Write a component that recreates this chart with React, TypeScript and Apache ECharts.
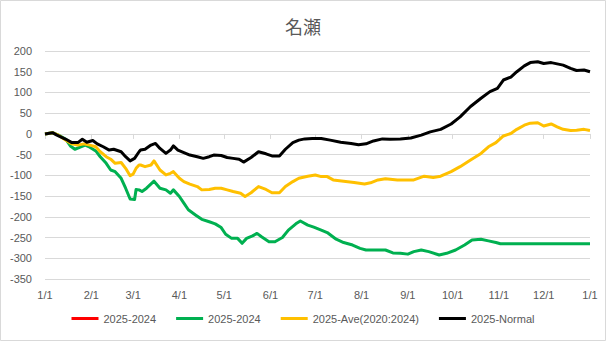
import React, { useEffect, useRef } from "react";
import * as echarts from "echarts";

const titleText = "名瀬";

const xTickDays = [0, 31, 59, 90, 120, 151, 181, 212, 243, 273, 304, 334, 365];
const xTickLabels = ["1/1", "2/1", "3/1", "4/1", "5/1", "6/1", "7/1", "8/1", "9/1", "10/1", "11/1", "12/1", "1/1"];

const yMin = -350;
const yMax = 200;
const yStep = 50;

const seriesNames = ["2025-2024", "2025-2024", "2025-Ave(2020:2024)", "2025-Normal"];
const seriesColors = ["#FF0000", "#00B050", "#FFC000", "#000000"];

// red series: no visible data in the reference
const redData: [number, number][] = [];

const greenData: [number, number][] = [
  [0, 0], [5, 3], [9, -3], [14, -13], [17, -29], [20, -37], [24, -31], [27, -27], [30, -32],
  [34, -41], [37, -55], [41, -71], [44, -87], [47, -91], [51, -107], [54, -131], [57, -157],
  [60, -158], [61, -134], [63, -135], [65, -139], [68, -131], [73, -114], [77, -131], [81, -135],
  [84, -143], [86, -135], [90, -151], [93, -167], [96, -183], [101, -196], [105, -206], [110, -212],
  [114, -217], [118, -226], [121, -242], [125, -252], [129, -252], [132, -264], [135, -252],
  [139, -246], [142, -240], [145, -248], [150, -260], [154, -260], [159, -250], [163, -232],
  [168, -217], [171, -210], [176, -220], [180, -225], [185, -232], [189, -238], [195, -254],
  [200, -262], [206, -268], [211, -276], [215, -280], [223, -280], [228, -280], [233, -287],
  [238, -288], [243, -290], [247, -284], [252, -280], [257, -284], [264, -292], [269, -288],
  [275, -280], [281, -268], [286, -256], [292, -254], [297, -258], [302, -262], [305, -265],
  [365, -265],
];

const yellowData: [number, number][] = [
  [0, 0], [5, 3], [9, -3], [14, -15], [18, -24], [22, -27], [26, -24], [30, -27], [34, -31],
  [37, -43], [41, -55], [44, -61], [47, -71], [51, -69], [54, -83], [57, -101], [59, -97],
  [61, -83], [63, -75], [64, -75], [67, -79], [71, -75], [73, -65], [77, -87], [81, -99],
  [84, -95], [86, -91], [90, -107], [93, -115], [97, -121], [102, -127], [105, -135], [110, -134],
  [114, -131], [118, -131], [122, -135], [126, -139], [131, -143], [134, -151], [138, -142],
  [143, -127], [148, -134], [152, -142], [157, -142], [161, -127], [166, -115], [170, -107],
  [176, -102], [181, -99], [185, -103], [189, -103], [193, -111], [200, -114], [207, -117],
  [214, -121], [218, -118], [223, -111], [228, -108], [236, -111], [244, -111], [247, -111],
  [254, -102], [260, -105], [265, -102], [272, -91], [278, -79], [285, -63], [292, -47],
  [297, -31], [302, -21], [307, -5], [312, 1], [316, 11], [321, 21], [325, 26], [330, 27],
  [334, 19], [339, 24], [343, 17], [347, 11], [352, 8], [356, 9], [361, 11], [365, 8],
];

const blackData: [number, number][] = [
  [0, 0], [5, 3], [8, -3], [14, -13], [18, -21], [22, -21], [25, -13], [28, -20], [32, -16],
  [35, -24], [39, -31], [43, -39], [46, -37], [51, -43], [54, -55], [57, -65], [60, -59],
  [63, -43], [64, -39], [67, -37], [71, -27], [74, -23], [77, -35], [81, -47], [84, -39],
  [86, -29], [89, -39], [93, -45], [97, -51], [102, -55], [106, -59], [110, -55], [113, -51],
  [118, -52], [122, -57], [126, -59], [130, -61], [133, -68], [138, -57], [143, -43], [148, -48],
  [152, -53], [157, -53], [161, -37], [166, -21], [170, -15], [174, -12], [179, -11], [185, -11],
  [191, -15], [198, -20], [205, -23], [210, -26], [215, -24], [220, -17], [226, -12], [231, -13],
  [238, -12], [245, -10], [252, -3], [258, 5], [265, 11], [272, 24], [278, 41], [285, 66],
  [292, 86], [298, 102], [303, 110], [307, 130], [312, 137], [316, 150], [321, 164], [325, 172],
  [330, 174], [334, 170], [339, 172], [343, 169], [347, 166], [352, 158], [356, 153], [361, 154],
  [365, 150],
];

const allData = [redData, greenData, yellowData, blackData];

export default function App() {
  const ref = useRef<HTMLDivElement>(null);
  useEffect(() => {
    if (!ref.current) return;
    const chart = echarts.init(ref.current, null, { renderer: "svg" });
    const keys = seriesNames.map((n, i) => `${n}#${i}`);
    const labelFont = "'Liberation Sans', 'Noto Sans CJK JP', sans-serif";
    chart.setOption({
      animation: false,
      backgroundColor: "#ffffff",
      title: {
        text: titleText,
        left: "center",
        top: 12,
        textStyle: {
          fontSize: 18,
          fontWeight: "normal",
          color: "#595959",
          fontFamily: "'Noto Sans CJK JP', sans-serif",
        },
      },
      grid: { left: 45, right: 16, top: 51, bottom: 62 },
      legend: {
        data: keys.map((k, i) => ({ name: k, icon: "rect", itemStyle: { color: seriesColors[i] } })),
        formatter: (name: string) => name.split("#")[0],
        bottom: 12,
        left: "center",
        itemWidth: 27,
        itemHeight: 3,
        itemGap: 20,
        textStyle: { fontSize: 11, color: "#595959", fontFamily: labelFont },
      },
      xAxis: {
        type: "value",
        min: 0,
        max: 365,
        splitLine: { show: false },
        axisLine: { show: true, lineStyle: { color: "#D9D9D9", width: 1 } },
        axisTick: {
          show: true,
          customValues: xTickDays,
          length: 5,
          lineStyle: { color: "#D9D9D9" },
        },
        axisLabel: {
          customValues: xTickDays,
          formatter: (v: number) => {
            const idx = xTickDays.indexOf(Math.round(v));
            return idx >= 0 ? xTickLabels[idx] : "";
          },
          color: "#595959",
          fontSize: 11,
          margin: 10,
          fontFamily: labelFont,
        },
      },
      yAxis: {
        type: "value",
        min: yMin,
        max: yMax,
        interval: yStep,
        axisLine: { show: false },
        axisTick: { show: false },
        splitLine: { lineStyle: { color: "#D9D9D9", width: 1 } },
        axisLabel: { color: "#595959", fontSize: 11, margin: 13, fontFamily: labelFont },
      },
      graphic: [
        {
          type: "rect",
          shape: { x: 0.5, y: 0.5, width: 605, height: 340 },
          style: { fill: "none", stroke: "#D9D9D9", lineWidth: 1 },
          silent: true,
        },
      ],
      series: keys.map((k, i) => ({
        name: k,
        type: "line",
        data: allData[i],
        showSymbol: false,
        symbol: "none",
        color: seriesColors[i],
        lineStyle: { width: 3, color: seriesColors[i], join: "round" },
        z: 2 + i,
      })),
    });
    return () => chart.dispose();
  }, []);
  return (
    <div
      ref={ref}
      style={{ position: "fixed", left: 0, top: 0, width: 606, height: 341, background: "#fff" }}
    />
  );
}
